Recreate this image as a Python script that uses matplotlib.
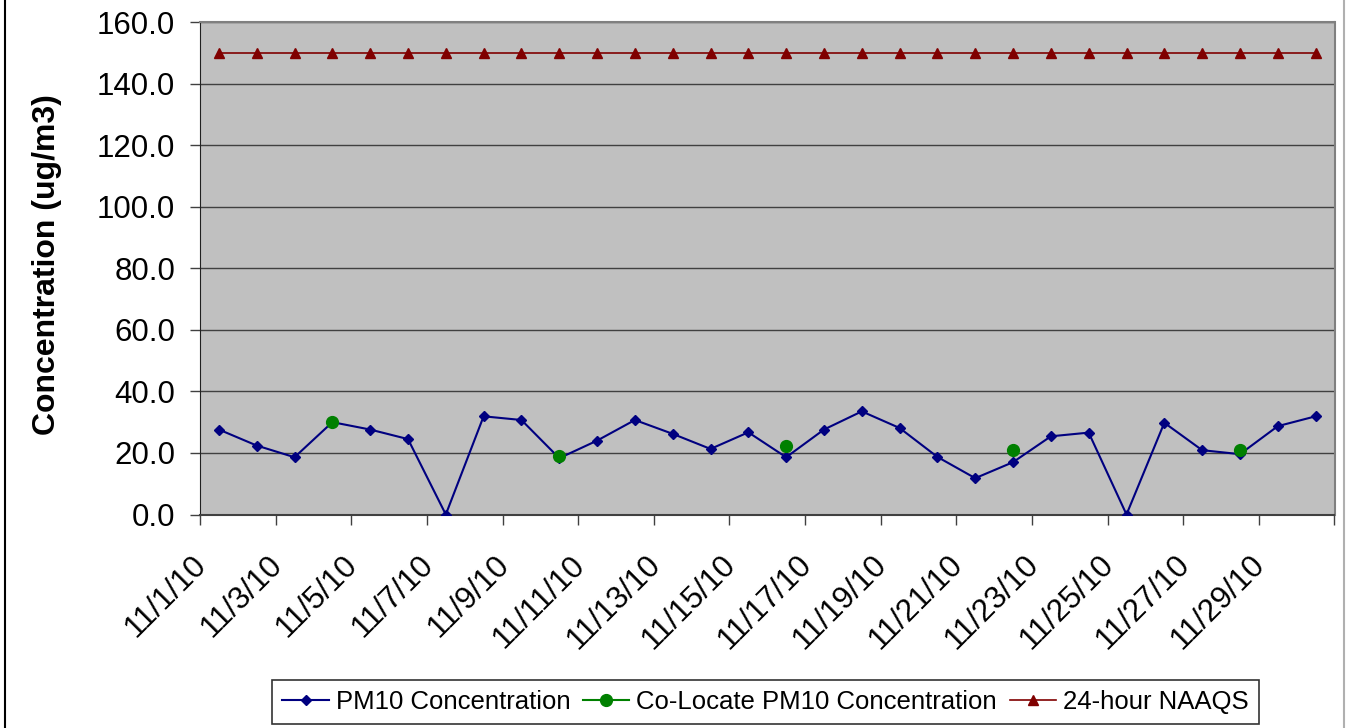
import matplotlib
matplotlib.use("Agg")
import matplotlib.pyplot as plt
import matplotlib.transforms as mtransforms
import numpy as np
from matplotlib.lines import Line2D

dates = [f"11/{d}/10" for d in range(1, 31)]
pm10 = [27.6, 22.4, 18.6, 30.0, 27.6, 24.5, 0.0, 31.9, 30.7, 18.3,
        24.0, 30.7, 26.2, 21.3, 26.7, 18.6, 27.6, 33.5, 28.1, 18.7,
        11.8, 17.0, 25.4, 26.6, 0.0, 29.8, 20.9, 19.6, 28.7, 31.9]
colocate = [np.nan, np.nan, np.nan, 30.0, np.nan, np.nan, np.nan, np.nan, np.nan, 18.9,
            np.nan, np.nan, np.nan, np.nan, np.nan, 22.2, np.nan, np.nan, np.nan, np.nan,
            np.nan, 21.0, np.nan, np.nan, np.nan, np.nan, np.nan, 21.1, np.nan, np.nan]
naaqs = [150.0] * 30

plt.rcParams['font.family'] = ['Liberation Sans', 'DejaVu Sans']

fig = plt.figure(figsize=(13.49, 7.28), dpi=100)
ax = fig.add_axes([200/1349, 1-514.5/728, (1334.5-200)/1349, (514.5-22)/728])
ax.set_facecolor('#C0C0C0')

x = np.arange(len(dates))
l1, = ax.plot(x, pm10, color='#000080', lw=1.5, marker='D', ms=5.5, zorder=3,
              label='PM10 Concentration')
l2, = ax.plot(x, colocate, color='#008000', lw=1.5, marker='o', ms=8.5, zorder=4,
              label='Co-Locate PM10 Concentration')
l3, = ax.plot(x, naaqs, color='#800000', lw=1.2, marker='^', ms=7.5, zorder=3,
              label='24-hour NAAQS')

ax.set_xlim(-0.5, len(dates) - 0.5)
ax.set_ylim(0, 160)
ax.set_yticks(np.arange(0, 161, 20))
ax.set_yticklabels([f"{v:.1f}" for v in np.arange(0, 161, 20)], fontsize=22.5)
ax.yaxis.grid(True, color='#404040', lw=1.0)
ax.set_axisbelow(True)

ax.tick_params(axis='x', which='major', length=7, width=1, color='#404040', direction='out')
ax.tick_params(axis='x', which='minor', length=0, pad=33)
ax.tick_params(axis='y', length=7, width=1, color='#404040', pad=11)

ax.set_xticks(np.arange(-0.5, len(dates), 2))
ax.set_xticklabels([])
ax.set_xticks(x[::2], minor=True)
ax.set_xticklabels(dates[::2], minor=True, rotation=45, ha='right', va='center',
                   rotation_mode='anchor', fontsize=22.5)
offset = mtransforms.ScaledTranslation(-17/100, 0, fig.dpi_scale_trans)
for lab in ax.get_xticklabels(minor=True):
    lab.set_transform(lab.get_transform() + offset)

for s in ['top', 'right']:
    ax.spines[s].set_color('#808080')
    ax.spines[s].set_linewidth(1.5)
ax.spines['left'].set_color('#202020')
ax.spines['bottom'].set_color('#404040')
ax.spines['bottom'].set_linewidth(1.5)

ax.set_ylabel('Concentration (ug/m3)', fontsize=23, fontweight='bold')
ax.yaxis.label.set_va('center')
ax.yaxis.set_label_coords((47.5-200)/1134.5, (514.5-265)/492.5)

leg = fig.legend(handles=[l1, l2, l3], loc='center', ncol=3,
                 bbox_to_anchor=((273+1258)/2/1349, 1-702/728),
                 fontsize=18.5, frameon=True, fancybox=False, edgecolor='black',
                 handlelength=1.8, handletextpad=0.27, columnspacing=0.5,
                 borderpad=0.4, borderaxespad=0)
leg.get_frame().set_linewidth(1.2)

fig.add_artist(Line2D([5/1349, 5/1349], [0, 1], color='black', lw=1.5,
                      transform=fig.transFigure))
fig.add_artist(Line2D([1344/1349, 1344/1349], [0, 1], color='#B0B0B0', lw=1.5,
                      transform=fig.transFigure))

fig.savefig('out.png', dpi=100, facecolor='white')
